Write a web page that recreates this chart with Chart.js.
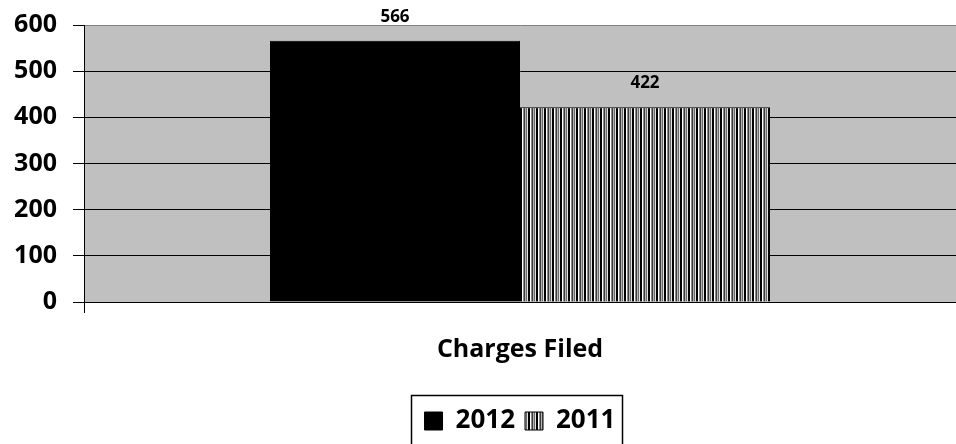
<!DOCTYPE html>
<html>
<head>
<meta charset="utf-8">
<style>
  html, body { margin: 0; padding: 0; background: #fff; }
  #wrap { width: 956px; height: 444px; }
</style>
</head>
<body>
<div id="wrap"><canvas id="chart"></canvas></div>

<script src="https://cdn.jsdelivr.net/npm/chart.js"></script>
<script>
const categories = ['Charges Filed'];
const seriesNames = ['2012', '2011'];
const values2012 = [566];
const values2011 = [422];
const yTicks = [0, 100, 200, 300, 400, 500, 600];

const FONT = '"Open Sans", Lato, "DejaVu Sans", sans-serif';

// vertical stripes used by the 2011 bar
function stripePattern() {
    const c = document.createElement('canvas');
    c.width = 8;
    c.height = 4;
    const g = c.getContext('2d');
    const cols = ['#000000', '#000000', '#ffffff', '#8a8a8a', '#3c3c3c', '#b4b4b4', '#6a6a6a', '#e0e0e0'];
    cols.forEach(function(col, i) {
        g.fillStyle = col;
        g.fillRect(i, 0, 1, 4);
    });
    return g.createPattern(c, 'repeat');
}

// grey plot background
const plotBg = {
    id: 'plotBg',
    beforeDraw(chart) {
        const a = chart.chartArea;
        const ctx = chart.ctx;
        ctx.save();
        ctx.fillStyle = '#c0c0c0';
        ctx.fillRect(a.left, a.top, a.right - a.left, a.bottom - a.top);
        ctx.restore();
    }
};

// centre the legend under the plot area, not the whole canvas
const legendShift = {
    id: 'legendShift',
    afterLayout(chart) {
        const lg = chart.legend;
        if (!lg) return;
        lg.left = chart.chartArea.left;
        lg.right = chart.chartArea.right;
        lg.width = lg.right - lg.left;
    }
};

// value labels above the bars
const barLabels = {
    id: 'barLabels',
    afterDatasetsDraw(chart) {
        const ctx = chart.ctx;
        ctx.save();
        ctx.fillStyle = '#000';
        ctx.font = 'bold 17px ' + FONT;
        ctx.textAlign = 'center';
        ctx.textBaseline = 'middle';
        chart.data.datasets.forEach(function(ds, i) {
            chart.getDatasetMeta(i).data.forEach(function(bar, j) {
                ctx.fillText(String(ds.data[j]), bar.x, bar.y - 24);
            });
        });
        ctx.restore();
    }
};

// frame round the legend items
const legendFrame = {
    id: 'legendFrame',
    afterDraw(chart) {
        const lg = chart.legend;
        if (!lg || !lg.legendHitBoxes || !lg.legendHitBoxes.length) return;
        const boxes = lg.legendHitBoxes;
        let l = Infinity, r = -Infinity;
        boxes.forEach(function(b) {
            l = Math.min(l, b.left);
            r = Math.max(r, b.left + b.width);
        });
        const ctx = chart.ctx;
        ctx.save();
        ctx.strokeStyle = '#000';
        ctx.lineWidth = 1.5;
        ctx.strokeRect(Math.round(l - 14) + 0.5, 395.5, Math.round(r - l + 20), 60);
        ctx.restore();
    }
};

const ctx = document.getElementById('chart').getContext('2d');

new Chart(ctx, {
    type: 'bar',
    data: {
        labels: categories,
        datasets: [
            {
                label: seriesNames[0],
                data: values2012,
                backgroundColor: '#000000',
                borderColor: '#000000',
                borderWidth: 1
            },
            {
                label: seriesNames[1],
                data: values2011,
                backgroundColor: stripePattern(),
                borderColor: '#000000',
                borderWidth: 1
            }
        ]
    },
    options: {
        responsive: true,
        maintainAspectRatio: false,
        animation: false,
        events: [],
        categoryPercentage: 0.5734,
        barPercentage: 1,
        layout: { padding: { top: 25, right: 0, left: 0, bottom: 0 } },
        scales: {
            x: {
                grid: {
                    display: true,
                    drawOnChartArea: false,
                    drawTicks: true,
                    tickLength: 11,
                    color: '#000'
                },
                border: { display: true, color: '#000', width: 1 },
                ticks: {
                    color: '#000',
                    font: { family: FONT, size: 25, weight: 'bold' },
                    padding: 22,
                    maxRotation: 0
                },
                afterFit(scale) {
                    scale.height = 96;
                    scale.paddingLeft = 0;
                    scale.paddingRight = 0;
                }
            },
            y: {
                min: 0,
                max: 600,
                afterBuildTicks(scale) {
                    scale.ticks = yTicks.map(function(v) { return { value: v }; });
                },
                grid: {
                    color(c) { return c.tick && c.tick.value === 600 ? '#808080' : '#000'; },
                    lineWidth: 1,
                    tickLength: 11,
                    tickColor: '#000'
                },
                border: { display: true, color: '#000', width: 1 },
                ticks: {
                    color: '#000',
                    font: { family: FONT, size: 25, weight: 'bold' },
                    padding: 16
                },
                afterFit(scale) {
                    scale.width = 84;
                    scale.paddingTop = 0;
                    scale.paddingBottom = 0;
                }
            }
        },
        plugins: {
            legend: {
                display: true,
                position: 'bottom',
                labels: {
                    color: '#000',
                    font: { family: FONT, size: 26, weight: 'bold' },
                    boxWidth: 18,
                    boxHeight: 18,
                    padding: 10
                }
            },
            tooltip: { enabled: false }
        }
    },
    plugins: [plotBg, legendShift, barLabels, legendFrame]
});
</script>
</body>
</html>
